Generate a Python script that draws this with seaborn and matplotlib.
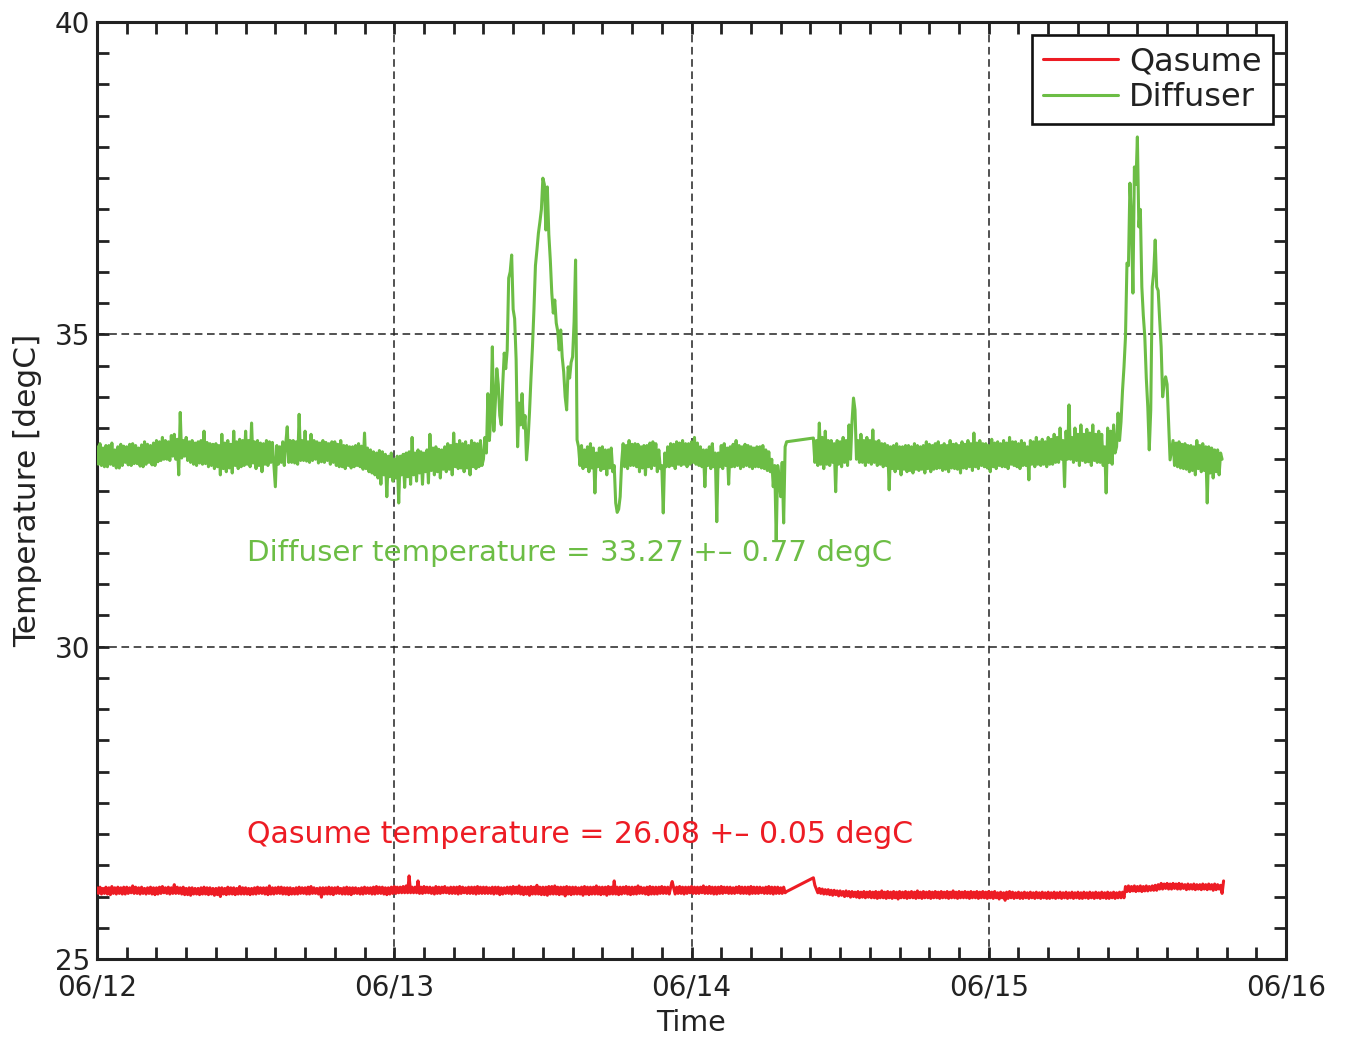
import numpy as np
import pandas as pd
import matplotlib
matplotlib.use("Agg")
import matplotlib.pyplot as plt
import seaborn as sns
from matplotlib.ticker import MultipleLocator, FixedLocator, FixedFormatter

# ---------------- data (days since 06/12 00:00, temperature in degC) ----------------
SERIES = ["Qasume", "Diffuser"]
X_TICK_LABELS = ["06/12", "06/13", "06/14", "06/15", "06/16"]
Y_TICKS = [25, 30, 35, 40]

# Diffuser, piece A: start 0.000 d, every 0.005 d
DIFF_A = [
    33.20, 32.92, 33.25, 32.90, 33.18, 32.88, 33.22, 32.88, 33.22, 32.92, 33.26, 32.90, 33.15, 32.86, 33.20, 32.86, 33.24, 32.90, 33.21, 32.95,
    33.20, 32.91, 33.24, 32.90, 33.25, 32.93, 33.22, 32.93, 33.18, 32.89, 33.23, 32.88, 33.28, 32.92, 33.24, 32.95, 33.22, 32.91, 33.26, 32.90,
    33.30, 32.96, 33.28, 32.98, 33.35, 33.00, 33.30, 33.00, 33.28, 32.98, 33.38, 33.05, 33.40, 33.00, 33.32, 32.75, 33.75, 33.02, 33.30, 33.05,
    33.35, 32.98, 33.28, 32.95, 33.30, 32.92, 33.26, 32.90, 33.28, 32.94, 33.30, 32.92, 33.45, 32.93, 33.27, 32.88, 33.25, 32.90, 33.24, 32.85,
    33.25, 32.88, 33.22, 32.75, 33.40, 32.85, 33.26, 32.80, 33.30, 32.86, 33.24, 32.78, 33.45, 32.90, 33.28, 32.85, 33.32, 32.88, 33.30, 32.90,
    33.45, 32.92, 33.30, 32.88, 33.58, 32.94, 33.28, 32.85, 33.30, 32.90, 33.26, 32.80, 33.25, 32.92, 33.30, 32.90, 33.28, 32.95, 33.27, 32.92,
    32.56, 33.22, 32.92, 33.20, 32.95, 33.28, 32.90, 33.25, 33.52, 32.95, 33.30, 32.95, 33.30, 32.94, 33.28, 32.92, 33.72, 32.98, 33.30, 32.98,
    33.45, 32.97, 33.28, 32.95, 33.40, 32.98, 33.30, 33.00, 33.28, 32.94, 33.26, 32.96, 33.30, 32.95, 33.27, 32.98, 33.25, 32.92, 33.28, 32.95,
    33.28, 32.90, 33.24, 32.88, 33.30, 32.88, 33.22, 32.85, 33.22, 32.90, 33.20, 32.86, 33.20, 32.88, 33.22, 32.90, 33.25, 32.88, 33.21, 32.84,
    33.42, 32.85, 33.18, 32.80, 33.15, 32.78, 33.12, 32.75, 33.10, 32.70, 33.14, 32.60, 33.12, 32.75, 33.08, 32.40, 33.05, 32.72, 33.10, 32.65,
    33.00, 32.70, 33.05, 32.30, 33.05, 32.75, 33.08, 32.55, 33.10, 32.72, 33.12, 32.60, 33.35, 32.75, 33.10, 32.65, 33.15, 32.78, 33.12, 32.60,
    33.10, 32.80, 33.15, 32.62, 33.40, 32.82, 33.18, 32.75, 33.20, 32.80, 33.16, 32.70, 33.15, 32.84, 33.20, 32.80, 33.25, 32.84, 33.22, 32.75,
    33.42, 32.88, 33.24, 32.85, 33.30, 32.86, 33.25, 32.80, 33.28, 32.86, 33.22, 32.75, 33.30, 32.88, 33.26, 32.85, 33.25, 32.88, 33.30, 32.90,
]
# Diffuser, first warm episode: start 1.300 d, every 0.005 d
DIFF_PEAK1 = [
    33.00, 33.35, 33.10, 34.05, 33.30, 33.70, 34.80, 33.45, 33.90, 34.45,
    34.20, 33.70, 33.55, 34.20, 34.70, 34.45, 34.75, 35.90, 36.00, 36.27,
    35.40, 35.25, 34.60, 33.20, 33.90, 33.55, 34.05, 33.50, 33.70, 32.99,
    33.30, 33.75, 34.30, 34.80, 35.40, 36.10, 36.35, 36.62, 36.80, 37.00,
    37.50, 37.40, 36.67, 37.36, 36.60, 36.19, 35.66, 35.34, 35.55, 35.18,
    35.05, 34.75, 35.07, 34.64, 34.40, 34.00, 33.79, 34.48, 34.30, 34.55,
    34.64, 35.20, 36.19, 33.31,
]
# Diffuser, piece B: start 1.620 d, every 0.005 d
DIFF_B = [
    33.20, 32.90, 33.22, 32.85, 33.15, 32.88, 33.20, 32.80, 33.25, 32.86, 33.18, 32.46, 33.10, 32.88, 33.18, 32.82, 33.20, 32.85, 33.15, 32.75,
    33.15, 32.86, 33.18, 32.80, 32.90, 32.30, 32.15, 32.20, 32.40, 32.95, 33.25, 32.88, 33.22, 32.85, 33.30, 32.90, 33.24, 32.90, 33.25, 32.88,
    33.24, 32.80, 33.20, 32.86, 33.22, 32.75, 33.22, 32.88, 33.26, 32.85, 33.28, 32.90, 33.25, 32.80, 33.15, 32.85, 32.90, 32.14, 33.10, 32.88,
    33.20, 32.88, 33.25, 32.90, 33.24, 32.85, 33.28, 32.92, 33.26, 32.90, 33.30, 32.92, 33.25, 32.88, 33.25, 32.92, 33.28, 32.95, 33.35, 32.92,
    33.26, 32.90, 33.20, 32.88, 33.15, 32.56, 33.15, 32.90, 33.20, 32.85, 33.25, 32.88, 33.10, 32.00, 33.10, 32.88, 33.22, 32.85, 33.25, 32.90,
    33.18, 32.60, 33.20, 32.88, 33.24, 32.88, 33.30, 32.90, 33.22, 32.85, 33.20, 32.88, 33.24, 32.90, 33.22, 32.88, 33.20, 32.85, 33.18, 32.88,
    33.20, 32.88, 33.20, 32.86, 33.22, 32.85, 33.15, 32.82, 33.12, 32.80, 33.00, 32.56, 32.90, 31.70, 32.90, 32.70, 32.40, 32.95, 31.98, 33.20,
    33.28,
]
# Diffuser, piece C (after the data gap): start 2.410 d, every 0.005 d
DIFF_C = [
    33.34, 32.95, 33.30, 32.90, 33.58, 32.92, 33.35, 32.85, 33.45, 32.92, 33.30, 32.90, 33.30, 32.95, 33.25, 32.48, 33.30, 32.92, 33.28, 32.88,
    33.35, 32.95, 33.30, 32.90, 33.55, 33.00, 33.60, 33.98, 33.79, 33.00, 33.30, 32.95, 33.40, 32.95, 33.30, 32.90, 33.35, 32.95, 33.30, 32.92,
    33.47, 32.95, 33.28, 32.90, 33.30, 32.92, 33.25, 32.88, 33.25, 32.90, 33.22, 32.51, 33.20, 32.85, 33.22, 32.80, 33.25, 32.85, 33.20, 32.75,
    33.20, 32.84, 33.22, 32.80, 33.22, 32.82, 33.20, 32.78, 33.25, 32.84, 33.22, 32.82, 33.20, 32.84, 33.22, 32.78, 33.28, 32.85, 33.24, 32.80,
    33.22, 32.84, 33.25, 32.85, 33.28, 32.86, 33.22, 32.82, 33.25, 32.84, 33.22, 32.80, 33.30, 32.86, 33.24, 32.85, 33.25, 32.84, 33.22, 32.78,
    33.28, 32.86, 33.24, 32.85, 33.30, 32.88, 33.25, 32.82, 33.42, 32.88, 33.26, 32.85, 33.30, 32.90, 33.25, 32.88, 33.25, 32.86, 33.22, 32.80,
    33.32, 32.88, 33.26, 32.85, 33.28, 32.90, 33.25, 32.88, 33.30, 32.88, 33.26, 32.85, 33.35, 32.92, 33.28, 32.90, 33.28, 32.88, 33.25, 32.85,
    33.30, 32.90, 33.26, 32.90, 33.20, 32.67, 33.30, 32.92, 33.28, 32.88, 33.35, 32.92, 33.28, 32.90, 33.32, 32.92, 33.28, 32.88, 33.35, 32.92,
    33.32, 32.92, 33.40, 32.95, 33.35, 32.95, 33.50, 33.00, 33.30, 32.56, 33.45, 33.00, 33.87, 33.00, 33.35, 32.95, 33.50, 32.98, 33.40, 32.90,
    33.55, 32.98, 33.40, 32.95, 33.48, 32.96, 33.42, 32.90, 33.55, 32.98, 33.40, 32.95, 33.45, 32.95, 33.40, 32.90, 33.20, 32.46, 33.50, 32.95,
    33.45, 32.92, 33.55, 33.10, 33.20,
]
# Diffuser, second warm episode: start 3.435 d, every 0.005 d
DIFF_PEAK2 = [
    33.74, 33.30, 33.60, 34.10, 34.48, 34.96, 36.14, 36.10, 37.42, 36.83,
    35.66, 37.68, 37.40, 38.16, 36.72, 37.00, 35.76, 35.30, 34.96, 34.30,
    33.84, 33.15, 33.79, 35.76, 36.00, 36.51, 35.76, 35.70, 35.23, 34.80,
    34.00, 34.20, 34.32, 34.20, 33.60, 32.99,
]
# Diffuser, piece D: start 3.620 d, every 0.005 d
DIFF_D = [
    33.30, 32.90, 33.26, 32.88, 33.28, 32.86, 33.24, 32.85, 33.25, 32.84, 33.22, 32.80, 33.22, 32.82, 33.20, 32.75, 33.30, 32.85, 33.22, 32.80,
    33.25, 32.82, 33.20, 32.30, 33.20, 32.78, 33.18, 32.70, 33.15, 32.80, 33.15, 32.75, 33.10, 33.00,
]

# Qasume, piece A: start 0.000 d, every 0.005 d
QAS_A = [
    26.14, 26.05, 26.15, 26.04, 26.13, 26.05, 26.15, 26.04, 26.14, 26.03, 26.16, 26.05, 26.14, 26.04, 26.15, 26.05, 26.14, 26.04, 26.15, 26.04,
    26.15, 26.05, 26.14, 26.06, 26.17, 26.05, 26.15, 26.05, 26.14, 26.04, 26.15, 26.05, 26.13, 26.04, 26.14, 26.05, 26.15, 26.04, 26.14, 26.03,
    26.14, 26.04, 26.15, 26.05, 26.16, 26.06, 26.14, 26.05, 26.15, 26.04, 26.14, 26.05, 26.19, 26.05, 26.15, 26.05, 26.14, 26.04, 26.15, 26.03,
    26.13, 26.03, 26.14, 26.02, 26.14, 26.04, 26.13, 26.04, 26.13, 26.03, 26.14, 26.04, 26.15, 26.04, 26.14, 26.03, 26.14, 26.04, 26.13, 26.02,
    26.13, 26.03, 26.14, 26.00, 26.14, 26.04, 26.13, 26.03, 26.15, 26.04, 26.14, 26.04, 26.14, 26.03, 26.13, 26.04, 26.16, 26.04, 26.14, 26.04,
    26.14, 26.04, 26.13, 26.03, 26.13, 26.04, 26.14, 26.04, 26.15, 26.05, 26.14, 26.05, 26.14, 26.04, 26.14, 26.03, 26.17, 26.04, 26.14, 26.04,
    26.14, 26.05, 26.15, 26.05, 26.15, 26.04, 26.14, 26.04, 26.14, 26.03, 26.14, 26.04, 26.13, 26.04, 26.14, 26.04, 26.15, 26.05, 26.14, 26.05,
    26.14, 26.04, 26.15, 26.04, 26.16, 26.05, 26.14, 26.05, 26.13, 26.04, 26.14, 25.99, 26.14, 26.04, 26.14, 26.04, 26.15, 26.04, 26.14, 26.03,
    26.14, 26.05, 26.15, 26.05, 26.13, 26.04, 26.14, 26.04, 26.15, 26.04, 26.14, 26.03, 26.14, 26.05, 26.14, 26.05, 26.13, 26.04, 26.14, 26.04,
    26.15, 26.05, 26.14, 26.05, 26.14, 26.04, 26.15, 26.04, 26.16, 26.05, 26.15, 26.05, 26.15, 26.04, 26.14, 26.03, 26.14, 26.04, 26.15, 26.05,
    26.16, 26.05, 26.15, 26.06, 26.15, 26.06, 26.16, 26.06, 26.17, 26.06, 26.33, 26.06, 26.15, 26.06, 26.15, 26.06, 26.25, 26.05, 26.15, 26.05,
    26.16, 26.06, 26.15, 26.06, 26.15, 26.05, 26.14, 26.04, 26.16, 26.05, 26.15, 26.05, 26.15, 26.06, 26.16, 26.06, 26.14, 26.05, 26.15, 26.05,
    26.15, 26.05, 26.15, 26.04, 26.16, 26.05, 26.15, 26.06, 26.14, 26.05, 26.15, 26.05, 26.15, 26.05, 26.15, 26.04, 26.16, 26.05, 26.15, 26.05,
    26.15, 26.05, 26.15, 26.05, 26.14, 26.05, 26.15, 26.04, 26.15, 26.05, 26.15, 26.03, 26.14, 26.04, 26.14, 26.05, 26.15, 26.05, 26.15, 26.04,
    26.16, 26.05, 26.15, 26.05, 26.17, 26.04, 26.15, 26.03, 26.15, 26.04, 26.15, 26.02, 26.16, 26.04, 26.15, 26.04, 26.18, 26.04, 26.15, 26.03,
    26.15, 26.03, 26.15, 26.02, 26.16, 26.04, 26.16, 26.04, 26.17, 26.04, 26.15, 26.03, 26.15, 26.04, 26.15, 26.01, 26.16, 26.04, 26.15, 26.03,
    26.15, 26.04, 26.15, 26.04, 26.14, 26.04, 26.15, 26.02, 26.16, 26.04, 26.15, 26.03, 26.15, 26.04, 26.15, 26.04, 26.17, 26.04, 26.15, 26.03,
    26.15, 26.04, 26.15, 26.02, 26.16, 26.04, 26.15, 26.04, 26.25, 26.04, 26.15, 26.03, 26.15, 26.04, 26.15, 26.05, 26.16, 26.04, 26.15, 26.03,
    26.15, 26.04, 26.15, 26.04, 26.17, 26.05, 26.15, 26.05, 26.14, 26.04, 26.15, 26.03, 26.16, 26.04, 26.15, 26.04, 26.15, 26.04, 26.15, 26.05,
    26.16, 26.05, 26.15, 26.05, 26.15, 26.04, 26.15, 26.24, 26.14, 26.04, 26.15, 26.05, 26.16, 26.05, 26.15, 26.04, 26.15, 26.05, 26.15, 26.06,
    26.16, 26.05, 26.15, 26.05, 26.15, 26.05, 26.15, 26.06, 26.17, 26.05, 26.15, 26.05, 26.16, 26.05, 26.15, 26.04, 26.15, 26.04, 26.15, 26.05,
    26.16, 26.05, 26.15, 26.06, 26.15, 26.05, 26.15, 26.05, 26.14, 26.05, 26.15, 26.06, 26.16, 26.05, 26.15, 26.05, 26.15, 26.05, 26.15, 26.04,
    26.16, 26.05, 26.15, 26.05, 26.15, 26.05, 26.15, 26.06, 26.14, 26.05, 26.15, 26.05, 26.16, 26.05, 26.15, 26.04, 26.15, 26.05, 26.15, 26.05,
    26.14, 26.05, 26.15, 26.06, 26.08,
]
# Qasume, piece B (after the data gap): start 2.410 d, every 0.005 d
QAS_B = [
    26.30, 26.18, 26.12, 26.06, 26.13, 26.05, 26.12, 26.04, 26.11, 26.04, 26.11, 26.03, 26.10, 26.02, 26.10, 26.03, 26.09, 26.01, 26.09, 26.02,
    26.08, 26.00, 26.09, 26.01, 26.08, 25.99, 26.08, 26.00, 26.07, 25.99, 26.08, 25.98, 26.07, 25.99, 26.08, 25.98, 26.07, 25.99, 26.08, 25.98,
    26.07, 25.98, 26.08, 25.97, 26.07, 25.98, 26.09, 25.98, 26.07, 25.97, 26.08, 25.98, 26.07, 25.97, 26.08, 25.98, 26.07, 25.96, 26.08, 25.98,
    26.07, 25.98, 26.08, 25.97, 26.07, 25.98, 26.08, 25.98, 26.07, 25.97, 26.09, 25.98, 26.07, 25.97, 26.08, 25.98, 26.07, 25.98, 26.08, 25.97,
    26.07, 25.98, 26.08, 25.98, 26.07, 25.97, 26.08, 25.98, 26.07, 25.98, 26.08, 25.97, 26.07, 25.98, 26.09, 25.98, 26.07, 25.97, 26.08, 25.98,
    26.07, 25.98, 26.08, 25.98, 26.07, 25.97, 26.08, 25.98, 26.07, 25.98, 26.08, 25.97, 26.07, 25.98, 26.08, 25.98, 26.07, 25.97, 26.08, 25.98,
    26.07, 25.97, 26.08, 25.98, 26.06, 25.96, 26.07, 25.98, 26.06, 25.94, 26.07, 25.97, 26.08, 25.98, 26.07, 25.97, 26.06, 25.98, 26.07, 25.97,
    26.06, 25.97, 26.07, 25.98, 26.06, 25.97, 26.07, 25.98, 26.06, 25.97, 26.07, 25.98, 26.06, 25.97, 26.07, 25.98, 26.06, 25.97, 26.07, 25.97,
    26.06, 25.98, 26.07, 25.97, 26.06, 25.98, 26.07, 25.97, 26.06, 25.98, 26.07, 25.97, 26.06, 25.98, 26.07, 25.97, 26.06, 25.98, 26.07, 25.97,
    26.06, 25.97, 26.07, 25.98, 26.06, 25.97, 26.07, 25.98, 26.06, 25.97, 26.07, 25.98, 26.06, 25.97, 26.07, 25.98, 26.06, 25.97, 26.07, 25.97,
    26.06, 25.98, 26.07, 25.97, 26.06, 25.98, 26.07, 25.98, 26.07, 25.98, 26.16, 26.08, 26.17, 26.08, 26.16, 26.09, 26.17, 26.08, 26.16, 26.09,
    26.17, 26.08, 26.16, 26.09, 26.17, 26.09, 26.16, 26.10, 26.17, 26.10, 26.18, 26.10, 26.19, 26.12, 26.21, 26.12, 26.20, 26.13, 26.21, 26.12,
    26.20, 26.12, 26.21, 26.13, 26.20, 26.12, 26.21, 26.12, 26.20, 26.13, 26.19, 26.11, 26.20, 26.12, 26.19, 26.12, 26.20, 26.11, 26.19, 26.12,
    26.19, 26.11, 26.20, 26.12, 26.19, 26.11, 26.20, 26.12, 26.19, 26.10, 26.20, 26.11, 26.19, 26.12, 26.18, 26.05, 26.25,
]

STEP = 0.005
DIFF_PIECES = [(0.000, DIFF_A), (1.300, DIFF_PEAK1), (1.620, DIFF_B),
               (2.410, DIFF_C), (3.435, DIFF_PEAK2), (3.620, DIFF_D)]
QAS_PIECES = [(0.000, QAS_A), (2.410, QAS_B)]

DIFF_TEXT = "Diffuser temperature = 33.27 +\u2013 0.77 degC"
QAS_TEXT = "Qasume temperature = 26.08 +\u2013 0.05 degC"

RED = "#ed1c24"
GREEN = "#6cbd45"
INK = "#222222"


def build(pieces, name):
    rows = []
    for start, vals in pieces:
        for i, v in enumerate(vals):
            rows.append((round(start + STEP * i, 4), v, name))
    return rows


df = pd.DataFrame(build(QAS_PIECES, "Qasume") + build(DIFF_PIECES, "Diffuser"),
                  columns=["day", "temp", "series"])

# ---------------- figure ----------------
sns.set_theme(style="ticks")
plt.rcParams["font.family"] = ["DejaVu Sans"]
plt.rcParams["text.color"] = INK

fig = plt.figure(figsize=(13.46, 10.40), dpi=100)
ax = fig.add_axes([97 / 1346, 81 / 1040, 1189 / 1346, 937 / 1040])

sns.lineplot(data=df, x="day", y="temp", hue="series", hue_order=SERIES,
             palette=[RED, GREEN], estimator=None, sort=False,
             linewidth=2.2, ax=ax, zorder=3)

ax.set_xlim(0, 4)
ax.set_ylim(25, 40)

ax.xaxis.set_major_locator(FixedLocator(range(len(X_TICK_LABELS))))
ax.xaxis.set_major_formatter(FixedFormatter(X_TICK_LABELS))
ax.xaxis.set_minor_locator(MultipleLocator(0.1))
ax.yaxis.set_major_locator(FixedLocator(Y_TICKS))
ax.yaxis.set_minor_locator(MultipleLocator(0.5))

ax.tick_params(which="both", direction="in", top=True, right=True,
               length=8.5, width=2.0, color=INK)
ax.tick_params(axis="x", which="major", labelsize=20, pad=10.5, labelcolor=INK)
ax.tick_params(axis="y", which="major", labelsize=20, pad=5, labelcolor=INK)
for s in ax.spines.values():
    s.set_linewidth(2.2)
    s.set_color(INK)

ax.grid(True, which="major", color=INK, linestyle=(0, (5, 3)), linewidth=1.1, zorder=1)

ax.set_xlabel("Time", fontsize=20.5, color=INK, labelpad=5)
ax.set_ylabel("Temperature [degC]", fontsize=22.5, color=INK, labelpad=9)

ax.text(0.505, 31.5, DIFF_TEXT, color=GREEN, fontsize=21.2, va="center", ha="left", zorder=4)
ax.text(0.505, 26.99, QAS_TEXT, color=RED, fontsize=21.6, va="center", ha="left", zorder=4)

handles, labels = ax.get_legend_handles_labels()
leg = ax.legend(handles, labels, loc="upper right", bbox_to_anchor=(0.989, 0.986),
                fontsize=23, frameon=True, fancybox=False, edgecolor="#111111",
                framealpha=1, handlelength=2.35, handletextpad=0.35,
                borderpad=0.35, labelspacing=0.15, borderaxespad=0)
leg.get_frame().set_linewidth(1.9)
for t in leg.get_texts():
    t.set_color(INK)

fig.savefig("out.png", dpi=100, facecolor="white")
